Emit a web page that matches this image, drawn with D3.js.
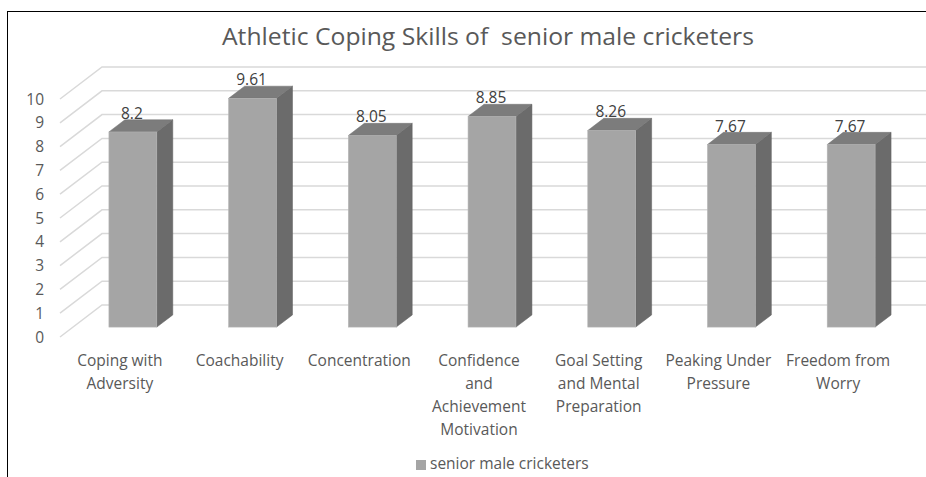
<!DOCTYPE html>
<html>
<head>
<meta charset="utf-8">
<script src="https://cdn.jsdelivr.net/npm/d3@7"></script>
<style>
  html, body { margin: 0; padding: 0; background: #fff; }
  svg { display: block; }
  text { font-family: "Open Sans", "Noto Sans", sans-serif; }
</style>
</head>
<body>
<svg id="chart" width="926" height="477"></svg>
<script>
// ---- data ----
const categories = [
  "Coping with\nAdversity",
  "Coachability",
  "Concentration",
  "Confidence\nand\nAchievement\nMotivation",
  "Goal Setting\nand Mental\nPreparation",
  "Peaking Under\nPressure",
  "Freedom from\nWorry"
];
const values = [8.2, 9.61, 8.05, 8.85, 8.26, 7.67, 7.67];
const yTicks = [0, 1, 2, 3, 4, 5, 6, 7, 8, 9, 10];
const titleText = "Athletic Coping Skills of  senior male cricketers";
const seriesName = "senior male cricketers";

// ---- layout ----
const svg = d3.select("#chart");
const W = 926, H = 477;

const floorFrontY0 = 337;
const unit = 23.8;
const depth = { dx: 42, dy: -32 };
const barFrontF = 0.31, barBackF = 0.69;

const x = d3.scaleBand().domain(categories).range([60, 898]).paddingInner(0.6).paddingOuter(0.3);
const yFront = d3.scaleLinear().domain([0, 10]).range([floorFrontY0, floorFrontY0 - 10 * unit]);

// frame
svg.append("line").attr("x1", 7.5).attr("x2", 7.5).attr("y1", 11).attr("y2", H)
  .attr("stroke", "#000").attr("stroke-width", 1);
svg.append("line").attr("x1", 7).attr("x2", W).attr("y1", 11.5).attr("y2", 11.5)
  .attr("stroke", "#000").attr("stroke-width", 1);

// title
const title = svg.append("text").attr("x", 488).attr("y", 45).attr("text-anchor", "middle")
  .attr("font-size", 24).attr("fill", "#595959")
  .style("white-space", "pre").text(titleText);
const tw = title.node().getComputedTextLength();
if (tw > 0) title.attr("textLength", 532).attr("lengthAdjust", "spacingAndGlyphs");

// gridlines
const grid = svg.append("g").attr("stroke", "#d9d9d9").attr("stroke-width", 1.5).attr("fill", "none");
const frontX = 60;
yTicks.forEach(v => {
  const y0 = yFront(v);
  grid.append("path").attr("d",
    `M${frontX},${y0} L${frontX + depth.dx},${y0 + depth.dy} L${W + 20},${y0 + depth.dy}`);
});

// y tick labels
svg.append("g").selectAll("text").data(yTicks).join("text")
  .attr("x", 44).attr("y", d => yFront(d) + 5.5)
  .attr("text-anchor", "end").attr("font-size", 15.5).attr("fill", "#595959")
  .text(d => d);

// bars
const fx = x.bandwidth();
const offF = { dx: depth.dx * barFrontF, dy: depth.dy * barFrontF };
const bd = { dx: depth.dx * (barBackF - barFrontF), dy: depth.dy * (barBackF - barFrontF) };
const bars = svg.append("g");
categories.forEach((c, i) => {
  const v = values[i];
  const x0 = x(c) + offF.dx, x1 = x0 + fx;
  const yb = yFront(0) + offF.dy, yt = yFront(v) + offF.dy;
  const g = bars.append("g");
  g.append("path").attr("d",
    `M${x1},${yb} L${x1 + bd.dx},${yb + bd.dy} L${x1 + bd.dx},${yt + bd.dy} L${x1},${yt} Z`)
    .attr("fill", "#6b6b6b").attr("stroke", "#5f5f5f").attr("stroke-width", 0.5);
  g.append("path").attr("d",
    `M${x0},${yt} L${x0 + bd.dx},${yt + bd.dy} L${x1 + bd.dx},${yt + bd.dy} L${x1},${yt} Z`)
    .attr("fill", "#7c7c7c").attr("stroke", "#707070").attr("stroke-width", 0.5);
  g.append("rect").attr("x", x0).attr("y", yt).attr("width", fx).attr("height", yb - yt)
    .attr("fill", "#a5a5a5").attr("stroke", "#b4b4b4").attr("stroke-width", 0.6);
  g.append("text").attr("x", x0 + fx / 2 - 1).attr("y", yt - 13)
    .attr("text-anchor", "middle").attr("font-size", 15.5).attr("fill", "#404040")
    .text(v);
});

// category labels
const catG = svg.append("g");
categories.forEach(c => {
  const t = catG.append("text").attr("text-anchor", "middle").attr("font-size", 15.5)
    .attr("fill", "#595959");
  c.split("\n").forEach((line, j) => {
    t.append("tspan").attr("x", x(c) + fx / 2).attr("y", 366 + j * 23).text(line);
  });
});

// legend
const lg = svg.append("g");
lg.append("rect").attr("x", 416).attr("y", 460).attr("width", 10).attr("height", 10).attr("fill", "#a5a5a5");
lg.append("text").attr("x", 430).attr("y", 469).attr("font-size", 15.5).attr("fill", "#595959").text(seriesName);
</script>
</body>
</html>
